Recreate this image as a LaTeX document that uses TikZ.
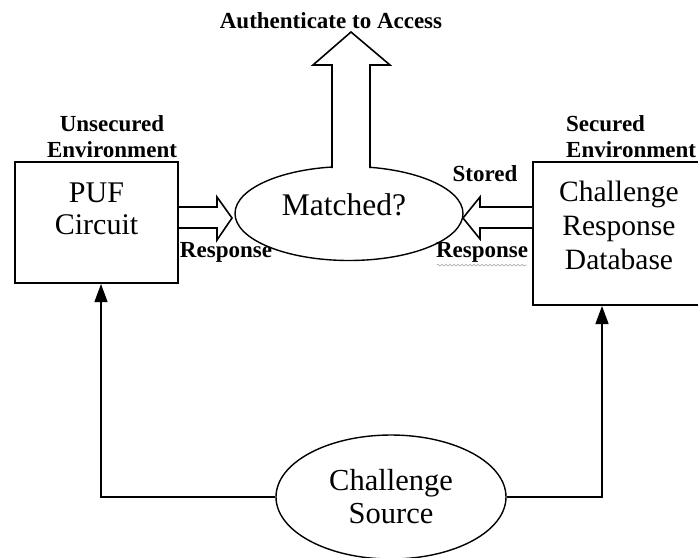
\documentclass[tikz,border=0pt]{standalone}
\usepackage{fontspec}
\setmainfont{Liberation Serif}
\usetikzlibrary{arrows.meta,calc,shapes.geometric,decorations.pathmorphing}

\tikzset{
  box/.style={draw, line width=2pt, rectangle, inner sep=0pt},
  oval/.style={draw, line width=1.4pt, ellipse, inner sep=0pt},
  bigtext/.style={font=\fontsize{29.5}{34}\selectfont, align=center, inner sep=0pt},
  tag/.style={font=\fontsize{23}{26}\selectfont\bfseries, inner sep=0pt},
  blockarrow/.style={draw, line width=1.6pt, fill=white, line join=miter},
  link/.style={line width=1.3pt, -{Triangle[length=18pt,width=13pt]}},
}

\begin{document}
\begin{tikzpicture}[x=1pt, y=-1pt]
  \useasboundingbox (0,0) rectangle (698,557);

  % boxes (the database box runs past the right edge)
  \node[box, minimum width=163pt, minimum height=121pt] (puf) at (96.5,222.5) {};
  \node[bigtext, font=\fontsize{30}{32}\selectfont] (puftext) at (96.5,209) {PUF\\Circuit};
  \node[box, minimum width=177pt, minimum height=143pt] (db) at (621.5,233.5) {};
  \node[bigtext] (dbtext) at (619,225) {Challenge\\Response\\Database};

  % ellipses
  \node[oval, minimum width=228pt, minimum height=94pt] (match) at (349,213.5) {};
  \node[bigtext, font=\fontsize{31.5}{34}\selectfont] (matchtext) at (344,205) {Matched?};
  \node[oval, minimum width=230pt, minimum height=124pt] (src) at (391,497) {};
  \node[bigtext, font=\fontsize{30.5}{33}\selectfont] (srctext) at (391,496.5) {Challenge\\Source};

  % environment labels
  \node[tag, align=center] (unsec) at (112,137) {Unsecured\\Environment};
  \node[tag, align=left, anchor=west] (sec) at (566,137) {Secured\\Environment};

  % block arrow: PUF -> Matched?
  \draw[blockarrow] (puf.east |- 0,207) -- (217,207) -- (217,197) -- (232,218)
        -- (217,240) -- (217,228) -- (puf.east |- 0,228);
  % block arrow: database -> Matched?
  \draw[blockarrow] (db.west |- 0,207) -- (480,207) -- (480,197) -- (463,218)
        -- (480,239) -- (480,228) -- (db.west |- 0,228);
  % block arrow: Matched? -> up
  \draw[blockarrow] (332,168) -- (332,65) -- (313,65) -- (351,32) -- (390,65)
        -- (370,65) -- (370,168);

  % arrow labels
  \node[tag] (auth) at (331,21) {Authenticate to Access};
  \node[tag] (respL) at (226,252) {Response};
  \node[tag] (stored) at (485,174) {Stored};
  \node[tag] (respR) at (482,252) {Response};
  \draw[gray!70, line width=0.6pt, decorate,
        decoration={snake, amplitude=0.9pt, segment length=4pt}]
        ($(respR.south west)+(1,3)$) -- ($(respR.south east)+(-1,3)$);

  % challenge connectors
  \draw[link] (src.west) -| ([xshift=4.5pt]puf.south);
  \draw[link] (src.east) -| ([xshift=-19.5pt]db.south);
\end{tikzpicture}
\end{document}
